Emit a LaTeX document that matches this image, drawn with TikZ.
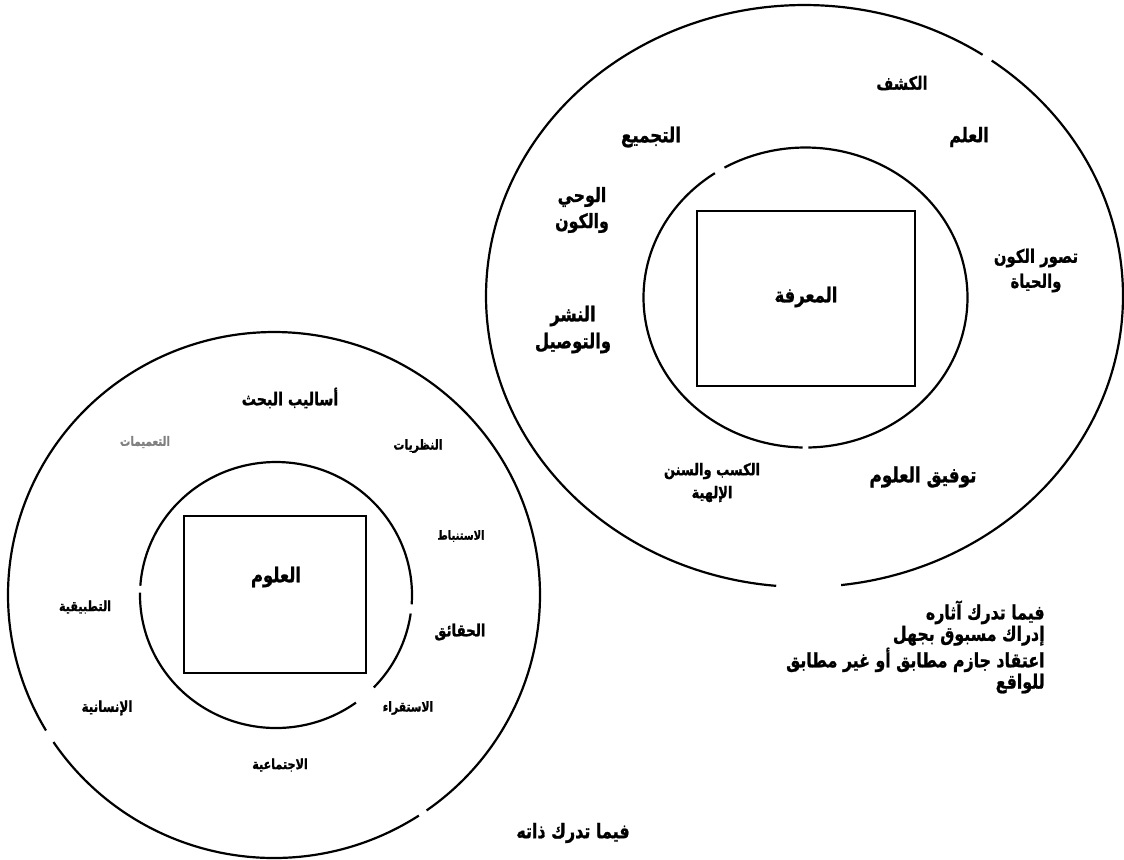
\documentclass[tikz,border=0pt]{standalone}
\usepackage{fontspec}
\usepackage{graphicx}
\TeXXeTstate=1
\newfontfamily\arfont[Script=Arabic, BoldFeatures={FakeBold=1.2}]{DejaVu Sans}
\newcommand\AR[1]{\scalebox{1}[1.25]{\beginR #1\endR}}
\tikzset{
  ring/.style={line width=1.1pt},
  box/.style={draw, line width=0.8pt, inner sep=0pt},
  lbl/.style 2 args={inner sep=0pt, align=center, font=\arfont\bfseries\fontsize{#1}{#2}\selectfont},
}
\begin{document}
\begin{tikzpicture}[x=0.5pt,y=-0.5pt]
\useasboundingbox (0,0) rectangle (1124,859);
% right outer ring
\draw[ring] plot[domain=-54:83.4, samples=150, smooth] ({804.5+318.5*cos(\x)},{296+291*sin(\x)});
\draw[ring] plot[domain=95.1:304, samples=200, smooth] ({804.5+318.5*cos(\x)},{296+291*sin(\x)});
% right inner ring
\draw[ring] plot[domain=91:236, samples=150, smooth] ({805.5+162*cos(\x)},{297.5+150*sin(\x)});
\draw[ring] plot[domain=240:449, samples=200, smooth] ({805.5+162*cos(\x)},{297.5+150*sin(\x)});
% left outer ring
\draw[ring] plot[domain=57:146, samples=100, smooth] ({274+266*cos(\x)},{595+263*sin(\x)});
\draw[ring] plot[domain=149:415, samples=250, smooth] ({274+266*cos(\x)},{595+263*sin(\x)});
% left inner ring
\draw[ring] plot[domain=8:44, samples=50, smooth] ({276+136*cos(\x)},{595+133*sin(\x)});
\draw[ring] plot[domain=54:181, samples=150, smooth] ({276+136*cos(\x)},{595+133*sin(\x)});
\draw[ring] plot[domain=184:364, samples=150, smooth] ({276+136*cos(\x)},{595+133*sin(\x)});

% boxes
\node[box, minimum width=218*0.5pt, minimum height=175*0.5pt] (marifa) at (806,298.5) {};
\node[box, minimum width=182*0.5pt, minimum height=157*0.5pt] (ulum) at (275,594.5) {};

% right circle labels
\node[lbl={7.3}{9pt}] (kashf) at (902,83) {\AR{الكشف}};
\node[lbl={8.3}{10pt}] (tajmi) at (651,137) {\AR{التجميع}};
\node[lbl={8}{10pt}] (ilm) at (969,137) {\AR{العلم}};
\node[lbl={7.9}{13pt}] (wahy) at (582,210) {\AR{الوحي}\\\AR{والكون}};
\node[lbl={7.4}{12.5pt}] (tasawwur) at (1036,270.5) {\AR{تصور الكون}\\\AR{والحياة}};
\node[lbl={8.2}{10pt}] (marifat) at (806,297) {\AR{المعرفة}};
\node[lbl={8.2}{13.5pt}] (nashr) at (573,329.5) {\AR{النشر}\\\AR{والتوصيل}};
\node[lbl={6.5}{11.5pt}] (kasb) at (712,482.5) {\AR{الكسب والسنن}\\\AR{الإلهية}};
\node[lbl={8.4}{10pt}] (tawfiq) at (923,477) {\AR{توفيق العلوم}};
\node[lbl={7.9}{10.7pt}, anchor=east, align=right] (defn) at (1045,647)
  {\AR{فيما تدرك آثاره}\\\AR{إدراك مسبوق بجهل}\\\AR{اعتقاد جازم مطابق أو غير مطابق}\\\AR{للواقع}};

% left circle labels
\node[lbl={7.1}{9pt}] (asalib) at (290,398) {\AR{أساليب البحث}};
\node[lbl={5.2}{7pt}, text=gray] (tamimat) at (145,442) {\AR{التعميمات}};
\node[lbl={5.5}{7pt}] (nazariyat) at (418,446) {\AR{النظريات}};
\node[lbl={5}{7pt}] (istinbat) at (461,536) {\AR{الاستنباط}};
\node[lbl={8.2}{10pt}] (ulumt) at (276,577) {\AR{العلوم}};
\node[lbl={5.6}{7pt}] (tatbiqiya) at (85,607) {\AR{التطبيقية}};
\node[lbl={6.7}{8pt}] (haqaiq) at (460,632) {\AR{الحقائق}};
\node[lbl={6}{7pt}] (insaniya) at (107,708) {\AR{الإنسانية}};
\node[lbl={5.4}{7pt}] (istiqra) at (408,708) {\AR{الاستقراء}};
\node[lbl={5.6}{7pt}] (ijtimaiya) at (280,765) {\AR{الاجتماعية}};
\node[lbl={8}{10pt}] (dhat) at (573,833) {\AR{فيما تدرك ذاته}};
\end{tikzpicture}
\end{document}
